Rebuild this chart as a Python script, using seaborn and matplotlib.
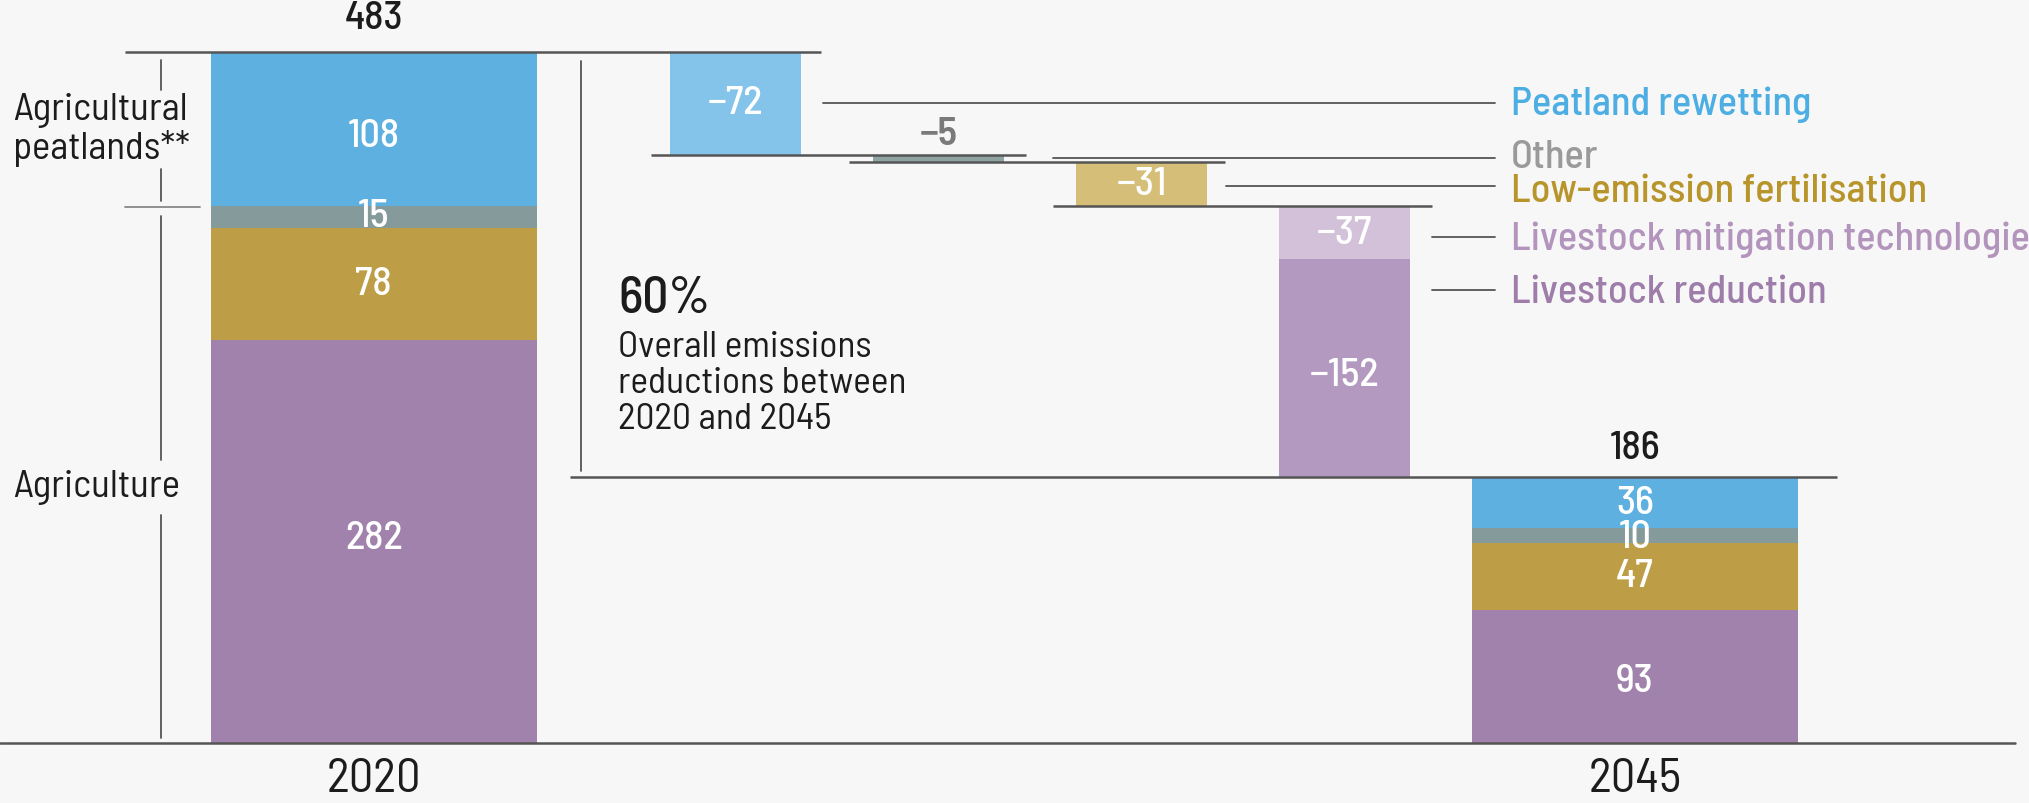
import matplotlib
matplotlib.use("Agg")
import matplotlib.pyplot as plt
import seaborn as sns

# values (Mt CO2e)
layers = ["Livestock", "Fertilisation", "Other", "Peatlands"]
values_2020 = [282, 78, 15, 108]
values_2045 = [93, 47, 10, 36]
step_names = ["Peatland rewetting", "Other", "Low-emission fertilisation",
              "Livestock mitigation technologies", "Livestock reduction"]
step_values = [-72, -5, -31, -37, -152]
year_labels = ["2020", "2045"]
share_text = "60%"
share_note = "Overall emissions\nreductions between\n2020 and 2045"

# colours
layer_colors = ["#a082ac", "#bd9d45", "#859a9b", "#5db0e0"]
step_colors = ["#84c4ea", "#8fa3a3", "#d5be78", "#d2c1d8", "#b399bf"]
label_colors = ["#4caee3", "#9a9a9a", "#b8952a", "#b294bd", "#9e7daa"]
bg = "#f7f7f7"
ink = "#1c1c1c"
rule = "#555555"

sns.set_theme(style="white")
plt.rcParams["font.family"] = ["Barlow Semi Condensed", "DejaVu Sans"]
plt.rcParams["font.stretch"] = "condensed"

fig = plt.figure(figsize=(20.29, 8.04), dpi=100, facecolor=bg)
ax = fig.add_axes([0, 0, 1, 1], facecolor=bg)
ax.set_xlim(-1.84, 8.15)
ax.set_ylim(-41.9, 520)
ax.axis("off")

# layout
x_2020, x_2045 = 0.0, 6.21
step_x = [1.78, 2.78, 3.78, 4.78, 4.78]
big_w, small_w = 1.605, 0.643

def txt(x, y, s, size, color=ink, **kw):
    ax.text(x, y, s, fontsize=size, color=color, **kw)

# stacked totals
for xpos, vals, lab_dy in [(x_2020, values_2020, [2, 0, 1, -5]),
                           (x_2045, values_2045, [-3, 0, -1, 0])]:
    bottom = 0
    for v, c, dy in zip(vals, layer_colors, lab_dy):
        ax.bar(xpos, v, bottom=bottom, width=big_w, color=c, linewidth=0)
        txt(xpos, bottom + v / 2 + dy, str(v), 29, "white",
            ha="center", va="center", fontweight="medium")
        bottom += v
    txt(xpos, bottom + 20 if xpos == x_2045 else 507, str(bottom), 29,
        ha="center", va="center", fontweight="medium")
    txt(xpos, -25, year_labels[0 if xpos == x_2020 else 1], 35,
        ha="center", va="center")

# waterfall steps
level = sum(values_2020)
for xpos, v, c in zip(step_x, step_values, step_colors):
    ax.bar(xpos, v, bottom=level, width=small_w, color=c, linewidth=0)
    mid = level + v / 2
    if abs(v) < 10:
        txt(xpos, level + 15, "\u2212" + str(abs(v)), 29, "#7a7a7a",
            ha="center", va="center", fontweight="semibold")
    else:
        dy = -5 if v < -100 else 0
        txt(xpos, mid + dy, "\u2212" + str(abs(v)), 29, "white",
            ha="center", va="center", fontweight="medium")
    level += v

# connector rules between steps
levels = [483, 411, 406, 375, 186]
spans = [(-1.223, 2.204), (1.363, 3.21), (2.338, 4.19), (3.344, 5.21),
         (0.968, 7.204)]
for yv, (x0, x1) in zip(levels, spans):
    ax.plot([x0, x1], [yv, yv], color=rule, lw=1.8, solid_capstyle="butt")
ax.plot([-1.84, 8.08], [0, 0], color=rule, lw=1.8)

# leader lines and labels
leader_y = [447.4, 408.9, 389.6, 353.9, 316.9]
label_y = [446.7, 409.6, 386.0, 352.3, 315.2]
leader_x0 = [2.21, 3.344, 4.197, 5.21, 5.21]
for name, ly, ty, x0, c in zip(step_names, leader_y, label_y, leader_x0,
                               label_colors):
    ax.plot([x0, 5.52], [ly, ly], color=rule, lw=1.3)
    txt(5.6, ty, name, 29, c, ha="left", va="center", fontweight="medium")

# left brackets
bx = -1.045
ax.plot([bx, bx], [477.4, 456.4], color=rule, lw=1.3)
ax.plot([bx, bx], [401.2, 378.9], color=rule, lw=1.3)
ax.plot([-1.223, -0.854], [374.7, 374.7], color="#888888", lw=1.3)
ax.plot([bx, bx], [368.4, 197.8], color=rule, lw=1.3)
ax.plot([bx, bx], [159.4, 3.5], color=rule, lw=1.3)
txt(-1.777, 429, "Agricultural\npeatlands**", 28, ha="left", va="center",
    linespacing=1.05)
txt(-1.777, 179.6, "Agriculture", 28, ha="left", va="center")

# overall reduction note
ax.plot([1.019, 1.019], [476.7, 190], color=rule, lw=1.3)
txt(1.204, 311, share_text, 37, ha="left", va="center", fontweight="medium")
txt(1.204, 289, share_note, 27, ha="left", va="top", linespacing=1.12)

fig.savefig("out.png", dpi=100, facecolor=bg)
